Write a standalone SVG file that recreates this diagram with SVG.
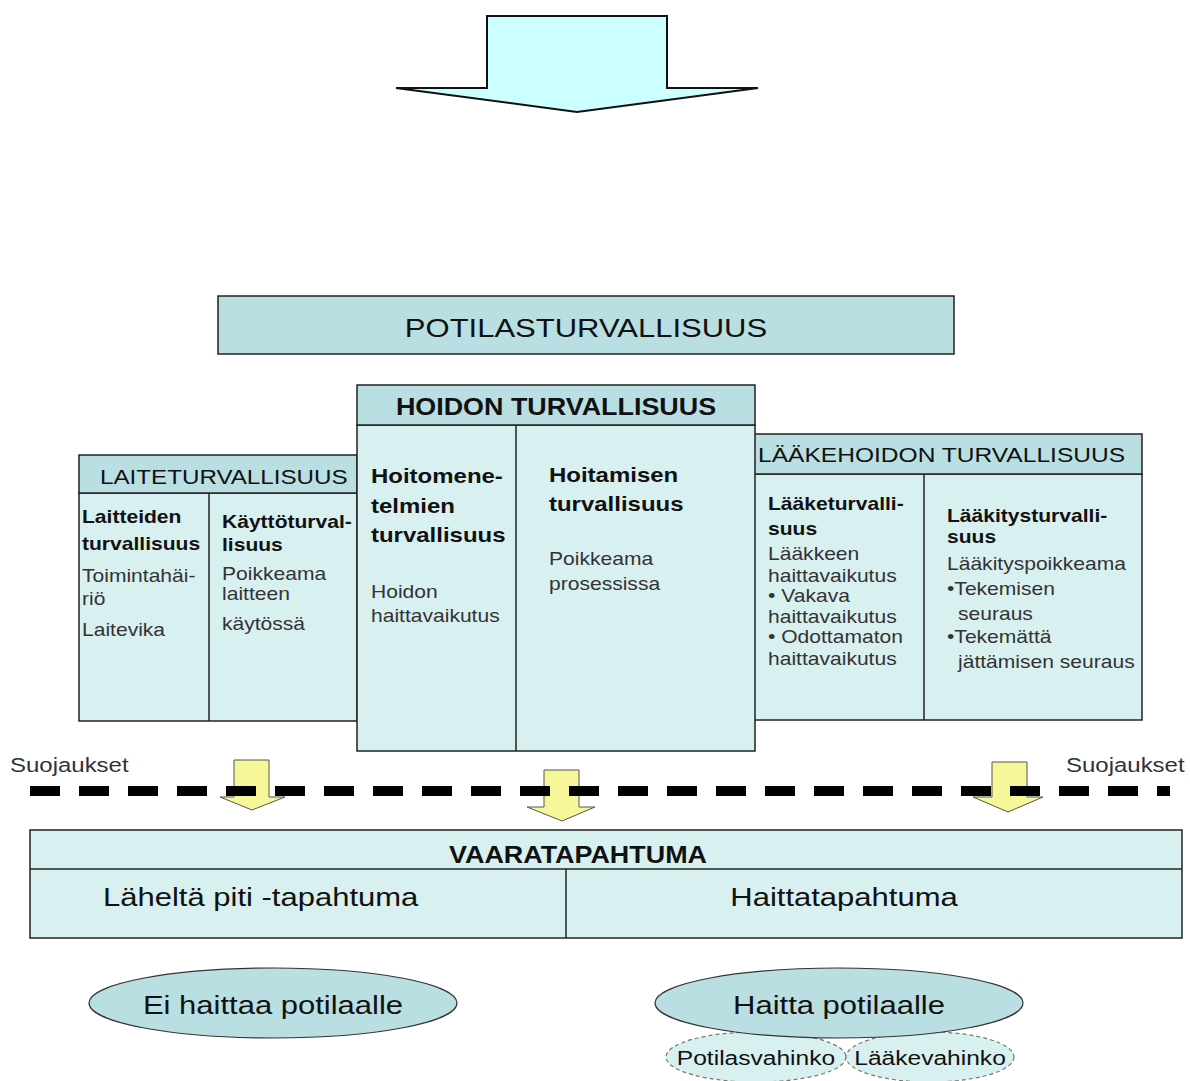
<svg xmlns="http://www.w3.org/2000/svg" width="1190" height="1081" viewBox="0 0 1190 1081">
<style>
.t{font-family:"Liberation Sans",Arial,sans-serif;fill:#333}
.k{fill:#111}
.b{font-weight:bold;fill:#111}
.s18{font-size:18px}
.s20{font-size:20.5px}
.s21{font-size:21px}
.s23{font-size:23px}
.s26{font-size:26.5px}
.m{text-anchor:middle}
.hd{fill:#b9dfe2;stroke:#222;stroke-width:1.5}
.bd{fill:#d9f0f0;stroke:#222;stroke-width:1.5}
.ln{stroke:#222;stroke-width:1.5;fill:none}
.ya{fill:#f7f79a;stroke:#555;stroke-width:1}
.el{fill:#b9dfe2;stroke:#333;stroke-width:1.2}
.ed{fill:#d9f0f0;stroke:#777;stroke-width:1.2;stroke-dasharray:4 3}
</style>

<g id="top-arrow">
<polygon points="487,16 667,16 667,88 758,88 577,112 396,88 487,88" fill="#ccffff" stroke="#111" stroke-width="2"/>
</g>

<g id="potilasturvallisuus">
<rect x="218" y="296" width="736" height="58" class="hd"/>
<text class="t k s26 m" transform="translate(586 337) scale(1.17 1)">POTILASTURVALLISUUS</text>
</g>

<g id="laiteturvallisuus">
<rect x="79" y="493" width="278" height="228" class="bd"/>
<rect x="79" y="455" width="278" height="38" class="hd"/>
<line x1="209" y1="493" x2="209" y2="721" class="ln"/>
<text class="t k s20" transform="translate(100 484) scale(1.18 1)">LAITETURVALLISUUS</text>
<text class="t b s18" transform="translate(82 523) scale(1.17 1)">Laitteiden</text>
<text class="t b s18" transform="translate(82 550) scale(1.17 1)">turvallisuus</text>
<text class="t s18" transform="translate(82 582) scale(1.17 1)">Toimintahäi-</text>
<text class="t s18" transform="translate(82 605) scale(1.17 1)">riö</text>
<text class="t s18" transform="translate(82 636) scale(1.17 1)">Laitevika</text>
<text class="t b s18" transform="translate(222 528) scale(1.17 1)">Käyttöturval-</text>
<text class="t b s18" transform="translate(222 551) scale(1.17 1)">lisuus</text>
<text class="t s18" transform="translate(222 580) scale(1.17 1)">Poikkeama</text>
<text class="t s18" transform="translate(222 600) scale(1.17 1)">laitteen</text>
<text class="t s18" transform="translate(222 630) scale(1.17 1)">käytössä</text>
</g>

<g id="laakehoidon-turvallisuus">
<rect x="754" y="474" width="388" height="246" class="bd"/>
<rect x="754" y="434" width="388" height="40" class="hd"/>
<line x1="924" y1="474" x2="924" y2="720" class="ln"/>
<text class="t k s21" transform="translate(758 462) scale(1.17 1)">LÄÄKEHOIDON TURVALLISUUS</text>
<text class="t b s18" transform="translate(768 510) scale(1.17 1)">Lääketurvalli-</text>
<text class="t b s18" transform="translate(768 535) scale(1.17 1)">suus</text>
<text class="t s18" transform="translate(768 560) scale(1.17 1)">Lääkkeen</text>
<text class="t s18" transform="translate(768 582) scale(1.17 1)">haittavaikutus</text>
<text class="t s18" transform="translate(768 602) scale(1.17 1)">• Vakava</text>
<text class="t s18" transform="translate(768 623) scale(1.17 1)">haittavaikutus</text>
<text class="t s18" transform="translate(768 643) scale(1.17 1)">• Odottamaton</text>
<text class="t s18" transform="translate(768 665) scale(1.17 1)">haittavaikutus</text>
<text class="t b s18" transform="translate(947 522) scale(1.17 1)">Lääkitysturvalli-</text>
<text class="t b s18" transform="translate(947 543) scale(1.17 1)">suus</text>
<text class="t s18" transform="translate(947 570) scale(1.17 1)">Lääkityspoikkeama</text>
<text class="t s18" transform="translate(947 595) scale(1.17 1)">•Tekemisen</text>
<text class="t s18" transform="translate(958 620) scale(1.17 1)">seuraus</text>
<text class="t s18" transform="translate(947 643) scale(1.17 1)">•Tekemättä</text>
<text class="t s18" transform="translate(958 668) scale(1.17 1)">jättämisen seuraus</text>
</g>

<g id="hoidon-turvallisuus">
<rect x="357" y="425" width="398" height="326" class="bd"/>
<rect x="357" y="385" width="398" height="40" class="hd"/>
<line x1="516" y1="425" x2="516" y2="751" class="ln"/>
<text class="t b s23 m" transform="translate(556 415) scale(1.17 1)">HOIDON TURVALLISUUS</text>
<text class="t b s20" transform="translate(371 483) scale(1.17 1)">Hoitomene-</text>
<text class="t b s20" transform="translate(371 513) scale(1.17 1)">telmien</text>
<text class="t b s20" transform="translate(371 542) scale(1.17 1)">turvallisuus</text>
<text class="t s18" transform="translate(371 598) scale(1.17 1)">Hoidon</text>
<text class="t s18" transform="translate(371 622) scale(1.17 1)">haittavaikutus</text>
<text class="t b s20" transform="translate(549 482) scale(1.17 1)">Hoitamisen</text>
<text class="t b s20" transform="translate(549 511) scale(1.17 1)">turvallisuus</text>
<text class="t s18" transform="translate(549 565) scale(1.17 1)">Poikkeama</text>
<text class="t s18" transform="translate(549 590) scale(1.17 1)">prosessissa</text>
</g>

<g id="suojaukset-left">
<text class="t s20" transform="translate(10 772) scale(1.17 1)">Suojaukset</text>
</g>
<g id="suojaukset-right">
<text class="t s20" transform="translate(1066 772) scale(1.17 1)">Suojaukset</text>
</g>

<g id="connectors">
<polygon class="ya" points="234,760 269,760 269,797 285,797 252,810 220,797 234,797"/>
<polygon class="ya" points="544,770 579,770 579,807 595,807 562,821 527,807 544,807"/>
<polygon class="ya" points="992,762 1027,762 1027,797 1043,797 1008,812 973,797 992,797"/>
<line x1="30" y1="791" x2="1170" y2="791" stroke="#000" stroke-width="10" stroke-dasharray="30 19"/>
</g>

<g id="vaaratapahtuma">
<rect x="30" y="830" width="1152" height="108" class="bd"/>
<line x1="30" y1="869" x2="1182" y2="869" class="ln"/>
<line x1="566" y1="869" x2="566" y2="938" class="ln"/>
<text class="t b s23 m" transform="translate(578 863) scale(1.17 1)">VAARATAPAHTUMA</text>
<text class="t k s26" transform="translate(103 906) scale(1.17 1)">Läheltä piti -tapahtuma</text>
<text class="t k s26 m" transform="translate(844 906) scale(1.17 1)">Haittatapahtuma</text>
</g>

<g id="ei-haittaa">
<ellipse cx="273" cy="1003" rx="184" ry="35" class="el"/>
<text class="t k s26 m" transform="translate(273 1014) scale(1.17 1)">Ei haittaa potilaalle</text>
</g>

<g id="potilasvahinko">
<ellipse cx="756" cy="1057" rx="90" ry="25" class="ed"/>
<text class="t k s21 m" transform="translate(756 1065) scale(1.17 1)">Potilasvahinko</text>
</g>
<g id="laakevahinko">
<ellipse cx="930" cy="1057" rx="84" ry="25" class="ed"/>
<text class="t k s21 m" transform="translate(930 1065) scale(1.17 1)">Lääkevahinko</text>
</g>

<g id="haitta-potilaalle">
<ellipse cx="839" cy="1003" rx="184" ry="35" class="el"/>
<text class="t k s26 m" transform="translate(839 1014) scale(1.17 1)">Haitta potilaalle</text>
</g>
</svg>
